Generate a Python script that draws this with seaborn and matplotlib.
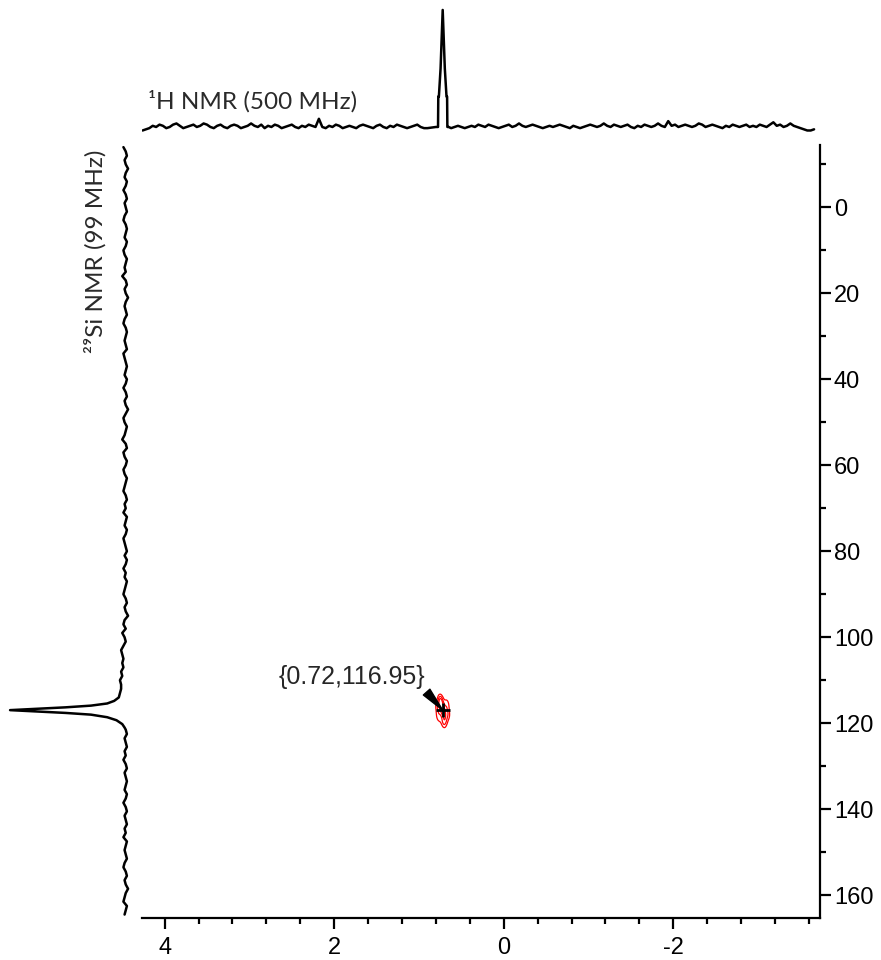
"""2D 1H-29Si HMBC style plot with projections."""

import numpy as np
import pandas as pd
import matplotlib
matplotlib.use("Agg")
import matplotlib.pyplot as plt
import seaborn as sns

# ── data ──────────────────────────────────────────────────────────────
# 1H projection (ppm, intensity; peak = 1.0), baseline left / right of the peak
h_left_start, h_right_start, h_step = 4.26, 0.62, 0.04
h_left_vals = [-3, -2, -1, 1, 0, 2, 1, -1, 0, 2, 3, 1, -1, 0, 1, 2, 0, 1, 3, 2,
               0, -1, 1, 2, 0, -1, 1, 2, 1, -1, 0, 1, 3, 1, 0, 2, -1, 1, 0, 2,
               1, -1, 0, 1, 2, 0, -1, 1, 0, 2, 1, 0, 7, 0, -1, 1, 0, 2, 1, -1,
               0, 1, 0, -1, 1, 2, 1, 0, -1, 1, 2, 0, -1, 1, 0, 2, 1, 0, -1, 0,
               1, 2, 0, -1, -1]
h_peak_ppm = [0.80, 0.775, 0.772, 0.765, 0.745, 0.72, 0.695, 0.675, 0.668, 0.665, 0.65]
h_peak_int = [0.0, 0.0, 0.26, 0.26, 0.50, 1.00, 0.50, 0.26, 0.26, 0.0, 0.0]
h_right_vals = [-1, 0, 1, 0, -1, 0, 1, 0, 2, 1, 0, 2, 1, 0, -1, 0, 1, 2, 0, 1,
                3, 1, 0, 1, 2, 1, 0, -1, 0, 1, 0, 1, 2, 1, 0, -1, 1, 0, -1, 0,
                1, 2, 1, 0, 1, 3, 1, 0, 2, 1, 0, 1, 2, 0, -1, 1, 0, 2, 1, 0,
                1, 3, 1, 0, 5, 1, 2, 0, 1, 2, 1, 0, 1, 3, 2, 0, 1, 2, 1, 0,
                -1, 1, 0, 2, 1, 0, 1, 2, 0, 1, 0, 2, 1, 0, 2, 4, 1, 2, 0, 1,
                3, 1, 0, -1, -2, -3, -3, -2]

# 29Si projection (ppm, intensity; peak = 1.0)
si_top_start, si_bot_start, si_step = -14.0, 121.5, 1.0
si_top_vals = [2, 0, -1, 1, 0, -2, 0, 1, -1, 0, 2, 0, -1, 1, 0, -1, 1, 2, 0, -1,
               0, 1, -1, 0, 2, 1, -1, 0, 1, 0, 3, 0, -1, 1, 0, -2, 0, 1, 0, -1,
               1, 2, 0, -1, 0, 1, 0, -1, 2, 1, 0, -1, 0, 1, -1, 0, 2, 0, -1, 1,
               0, -2, 0, 2, 1, -1, 0, 1, 3, 0, -1, 2, 1, -1, 0, 2, 1, -1, 0, 1,
               2, 0, -1, 1, 0, 2, -1, 0, 1, -1, 0, 2, 1, 0, -1, 1, -1, 0, 2, 0,
               1, -1, 0, 1, 2, 0, -1, 1, 0, -2, 1, 2, 0, 3, 1, 0, 2, 4, 3, 2,
               3, 2, 4, 3, 5, 4, 4]
si_peak_ppm = [113.0, 114.0, 114.8, 115.4, 115.9, 116.3, 116.65, 116.95,
               117.25, 117.6, 118.0, 118.6, 119.3, 120.2, 121.0]
si_peak_int = [0.05, 0.06, 0.10, 0.16, 0.30, 0.52, 0.78, 1.00,
               0.78, 0.52, 0.30, 0.16, 0.08, 0.03, 0.01]
si_bot_vals = [0, -1, 1, 0, -1, 1, 0, 2, 0, -1, 1, 0, -1, 0, 1, -1, 0, 2, 0, -1,
               1, 0, -1, 1, 0, 2, -1, 0, 1, 0, -1, 1, 2, 0, -1, 1, 0, -2, 0, 1,
               2, -1, 0, 1]

# cross peak samples (1H ppm, 29Si ppm)
cross_h = [0.67, 0.77, 0.72, 0.69, 0.75, 0.72, 0.66, 0.78, 0.71, 0.74]
cross_si = [115.5, 118.5, 117.0, 119.0, 115.0, 116.9, 117.8, 116.2, 120.0, 114.5]
peak_label = "{0.72,116.95}"

x_ticks = [4, 2, 0, -2]
y_ticks = [0, 20, 40, 60, 80, 100, 120, 140, 160]

# ── assemble traces ───────────────────────────────────────────────────
h_df = pd.DataFrame({
    "ppm": np.concatenate([
        h_left_start - h_step * np.arange(len(h_left_vals)),
        h_peak_ppm,
        h_right_start - h_step * np.arange(len(h_right_vals)),
    ]),
    "intensity": np.concatenate([
        np.array(h_left_vals) / 100, h_peak_int, np.array(h_right_vals) / 100,
    ]),
})
si_df = pd.DataFrame({
    "ppm": np.concatenate([
        si_top_start + si_step * np.arange(len(si_top_vals)),
        si_peak_ppm,
        si_bot_start + si_step * np.arange(len(si_bot_vals)),
    ]),
    "intensity": np.concatenate([
        np.array(si_top_vals) / 100, si_peak_int, np.array(si_bot_vals) / 100,
    ]),
})
h_df = h_df[(h_df["ppm"] <= 4.27) & (h_df["ppm"] >= -3.73)]
si_df = si_df[(si_df["ppm"] >= -14.5) & (si_df["ppm"] <= 164.8)]

# ── style ─────────────────────────────────────────────────────────────
sns.set_theme(style="white")
plt.rcParams.update({
    "font.family": ["Liberation Sans", "DejaVu Sans"],
    "axes.linewidth": 1.6,
    "axes.edgecolor": "black",
    "xtick.color": "black",
    "ytick.color": "black",
})
label_font = dict(family=["Lato", "DejaVu Sans"], fontsize=17.5, color="#2a2a2a")

W, H = 881, 960
fig = plt.figure(figsize=(W / 100, H / 100), dpi=100)

x0, x1 = 141.7, 820.0      # main panel, pixels
y0, y1 = 145.0, 918.0
xlim = (4.27, -3.73)
ylim = (165.3, -14.5)

ax = fig.add_axes([x0 / W, 1 - y1 / H, (x1 - x0) / W, (y1 - y0) / H])
ax_top = fig.add_axes([x0 / W, 1 - y0 / H, (x1 - x0) / W, y0 / H])
ax_left = fig.add_axes([0, 1 - y1 / H, x0 / W, (y1 - y0) / H])

# main 2D panel
sns.kdeplot(x=cross_h, y=cross_si, ax=ax, levels=4, thresh=0.2,
            color="red", linewidths=0.9, bw_adjust=0.9)
ax.plot([0.72], [116.95], marker="+", color="black", markersize=10, mew=2)
ax.annotate(peak_label, xy=(0.72, 116.95), xytext=(0.93, 109.2),
            ha="right", va="center", fontsize=18,
            arrowprops=dict(arrowstyle="wedge,tail_width=0.35", fc="black",
                            ec="black", relpos=(0.97, 0.15),
                            shrinkA=0, shrinkB=0))
ax.set_xlim(*xlim)
ax.set_ylim(*ylim)
ax.set_xlabel("")
ax.set_ylabel("")
for side in ("top", "left"):
    ax.spines[side].set_visible(False)
ax.yaxis.tick_right()
ax.set_xticks(x_ticks)
ax.set_xticklabels([str(t) for t in x_ticks])
ax.set_yticks(y_ticks)
ax.set_xticks(np.arange(4.0, -3.8, -0.4), minor=True)
ax.set_yticks(np.arange(-10, 166, 10), minor=True)
ax.tick_params(which="major", length=8, width=1.6, labelsize=17, direction="out")
ax.tick_params(which="minor", length=4, width=1.6, direction="out")
ax.tick_params(axis="y", which="both", left=False, right=True, pad=2)
ax.tick_params(axis="x", which="both", bottom=True, top=False, pad=6)

# 1H projection
sns.lineplot(data=h_df, x="ppm", y="intensity", ax=ax_top, sort=False,
             estimator=None, color="black", linewidth=1.8)
ax_top.set_xlim(*xlim)
ax_top.set_ylim(-0.154, 1.085)
ax_top.axis("off")

# 29Si projection
sns.lineplot(data=si_df, x="intensity", y="ppm", ax=ax_left, sort=False,
             estimator=None, orient="y", color="black", linewidth=1.8)
ax_left.set_xlim(1.087, -0.138)
ax_left.set_ylim(*ylim)
ax_left.axis("off")

fig.text(148 / W, 1 - 101 / H, "¹H NMR (500 MHz)", ha="left", va="center", **label_font)
fig.text(95 / W, 1 - 150 / H, "²⁹Si NMR (99 MHz)", ha="center", va="top",
         rotation=90, **label_font)

fig.savefig("out.png", dpi=100)
